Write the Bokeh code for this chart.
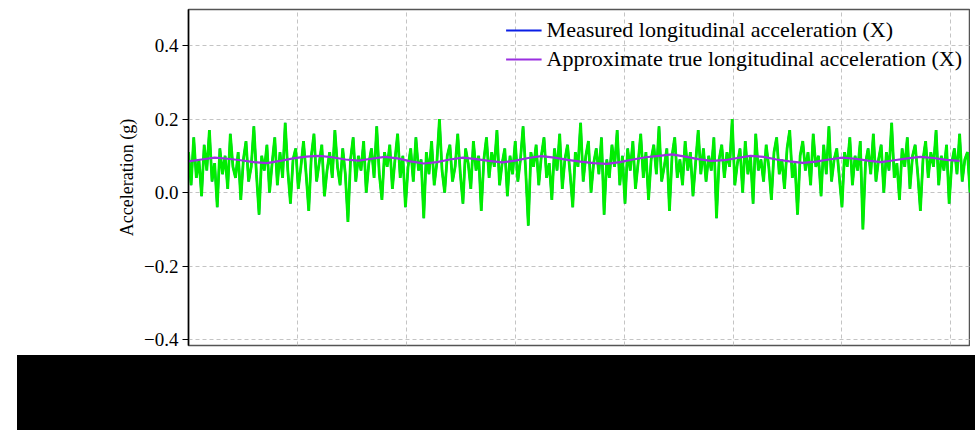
import numpy as np
from bokeh.plotting import figure
from bokeh.layouts import column, row
from bokeh.models import Range1d, FixedTicker, Legend, LegendItem, Div, Spacer
from bokeh.embed import file_html
from bokeh.resources import INLINE

# ---------------- data ----------------
sample_interval = 0.12  # s between measured samples
measured_accel = [
    0.11, 0.02, 0.15, 0.04, 0.09, -0.01, 0.13, 0.06, 0.17, 0.03, 0.08, -0.04, 0.12, 0.05, 0.10, 0.01, 0.16, 0.07, 0.04, 0.11,
    -0.02, 0.09, 0.14, 0.03, 0.07, 0.18, 0.05, -0.06, 0.10, 0.06, 0.13, 0.00, 0.08, 0.15, 0.02, 0.11, 0.04, 0.19, 0.06, -0.03,
    0.09, 0.12, 0.01, 0.07, 0.14, 0.05, -0.05, 0.10, 0.16, 0.03, 0.08, 0.13, -0.01, 0.06, 0.11, 0.04, 0.17, 0.07, 0.02, 0.12,
    0.05, -0.08, 0.09, 0.15, 0.03, 0.10, 0.06, 0.14, 0.00, 0.08, 0.12, 0.04, 0.18, 0.05, -0.02, 0.11, 0.07, 0.13, 0.01, 0.09,
    0.16, 0.04, 0.10, -0.04, 0.07, 0.12, 0.03, 0.15, 0.06, 0.09, -0.07, 0.11, 0.05, 0.14, 0.02, 0.08, 0.20, 0.06, 0.00, 0.10,
    0.13, 0.03, 0.07, 0.16, 0.05, -0.03, 0.12, 0.08, 0.01, 0.14, 0.06, 0.10, -0.05, 0.09, 0.15, 0.04, 0.11, 0.07, 0.17, 0.02,
    0.08, 0.12, -0.01, 0.10, 0.05, 0.14, 0.03, 0.09, 0.18, 0.06, -0.09, 0.11, 0.07, 0.13, 0.02, 0.10, 0.15, 0.04, 0.08, -0.02,
    0.12, 0.06, 0.16, 0.01, 0.09, 0.13, 0.05, -0.04, 0.11, 0.07, 0.19, 0.03, 0.10, 0.14, 0.00, 0.08, 0.12, 0.05, 0.15, -0.06,
    0.09, 0.04, 0.13, 0.07, 0.17, 0.02, 0.10, -0.03, 0.12, 0.06, 0.14, 0.01, 0.08, 0.16, 0.04, 0.11, -0.02, 0.09, 0.13, 0.05,
    0.18, 0.03, 0.07, 0.12, -0.05, 0.10, 0.15, 0.04, 0.09, 0.02, 0.14, 0.06, 0.11, -0.01, 0.08, 0.17, 0.05, 0.12, 0.03, 0.10,
    0.06, 0.15, -0.07, 0.09, 0.13, 0.04, 0.11, 0.07, 0.20, 0.02, 0.08, 0.12, 0.00, 0.14, 0.05, 0.10, -0.03, 0.16, 0.06, 0.09,
    0.03, 0.13, 0.07, -0.02, 0.11, 0.15, 0.05, 0.09, 0.01, 0.12, 0.17, 0.04, 0.08, -0.06, 0.10, 0.14, 0.06, 0.11, 0.02, 0.16,
    0.07, 0.10, -0.01, 0.13, 0.05, 0.18, 0.03, 0.09, 0.12, 0.04, -0.04, 0.11, 0.07, 0.15, 0.02, 0.10, 0.06, 0.14, -0.10, 0.08,
    0.12, 0.05, 0.16, 0.03, 0.09, 0.13, 0.00, 0.11, 0.06, 0.19, 0.04, 0.08, -0.02, 0.12, 0.07, 0.15, 0.01, 0.10, 0.13, 0.05,
    -0.05, 0.09, 0.14, 0.04, 0.11, 0.07, 0.17, 0.02, 0.10, 0.06, 0.13, -0.03, 0.08, 0.12, 0.05, 0.16, 0.03, 0.09, 0.11, 0.00,
]
true_interval = 0.6  # s between smoothed samples
true_accel = [
    0.085, 0.090, 0.095, 0.092, 0.088, 0.083, 0.080, 0.086, 0.093, 0.098,
    0.100, 0.096, 0.090, 0.087, 0.092, 0.097, 0.093, 0.085, 0.079, 0.083,
    0.090, 0.095, 0.091, 0.086, 0.082, 0.087, 0.094, 0.099, 0.095, 0.089,
    0.084, 0.080, 0.078, 0.083, 0.090, 0.096, 0.100, 0.104, 0.098, 0.091,
    0.086, 0.088, 0.094, 0.100, 0.097, 0.090, 0.085, 0.081, 0.084, 0.090,
    0.095, 0.092, 0.087, 0.083, 0.088, 0.093, 0.097, 0.094, 0.089, 0.086,
]
y_ticks = [-0.4, -0.2, 0.0, 0.2, 0.4]
y_tick_labels = ["\u22120.4", "\u22120.2", "0.0", "0.2", "0.4"]
x_ticks = [0, 5, 10, 15, 20, 25, 30, 35]
legend_labels = ["Measured longitudinal acceleration (X)",
                 "Approximate true longitudinal acceleration (X)"]

t_meas = np.arange(len(measured_accel)) * sample_interval
t_true = np.arange(len(true_accel)) * true_interval

SERIF = "Liberation Serif"

p = figure(width=970, height=350, output_backend="svg", toolbar_location=None,
           x_range=Range1d(0, 35.9), y_range=Range1d(-0.416, 0.498))
p.min_border_left = 188
p.min_border_right = 0
p.min_border_top = 9
p.min_border_bottom = 5
p.background_fill_color = "white"
p.border_fill_color = "white"
p.outline_line_color = "#555555"
p.outline_line_width = 1.5

p.xaxis.visible = False
p.xaxis.ticker = FixedTicker(ticks=x_ticks)
p.xgrid.ticker = FixedTicker(ticks=x_ticks)

p.yaxis.ticker = FixedTicker(ticks=y_ticks)
p.yaxis.major_label_overrides = {v: s for v, s in zip(y_ticks, y_tick_labels)}
p.yaxis.major_label_text_font = SERIF
p.yaxis.major_label_text_font_size = "19px"
p.yaxis.major_label_text_color = "black"
p.yaxis.major_label_standoff = 4
p.yaxis.axis_label = "Acceleration (g)"
p.yaxis.axis_label_text_font = SERIF
p.yaxis.axis_label_text_font_size = "18px"
p.yaxis.axis_label_text_font_style = "normal"
p.yaxis.axis_label_text_color = "black"
p.yaxis.axis_label_standoff = 4
p.yaxis.axis_line_color = "black"
p.yaxis.axis_line_width = 1.5
p.yaxis.major_tick_line_color = "black"
p.yaxis.major_tick_out = 6
p.yaxis.major_tick_in = 0
p.yaxis.minor_tick_line_color = None

for g in (p.xgrid, p.ygrid):
    g.grid_line_color = "#c4c4c4"
    g.grid_line_dash = "4 3"
    g.grid_line_width = 1

# blue measured trace (legend key) lies under the green drawn trace
r_meas_key = p.line(t_meas, measured_accel, line_color="#0a1ee6", line_width=2)
r_meas = p.line(t_meas, measured_accel, line_color="#00ee00", line_width=2.8)
r_true = p.line(t_true, true_accel, line_color="#9a2fe0", line_width=2.2)

legend = Legend(items=[LegendItem(label=legend_labels[0], renderers=[r_meas_key]),
                       LegendItem(label=legend_labels[1], renderers=[r_true])],
                location="top_right")
legend.label_text_font = SERIF
legend.label_text_font_size = "22px"
legend.label_text_color = "black"
legend.label_height = 22
legend.glyph_height = 20
legend.border_line_color = None
legend.background_fill_color = "white"
legend.background_fill_alpha = 0.0
legend.glyph_width = 36
legend.spacing = 3
legend.padding = 4
legend.margin = 8
p.add_layout(legend)

black = Div(text="", width=958, height=78,
            styles={"background-color": "black"})
bottom = row(Spacer(width=12, height=78), black, spacing=0)

layout = column(p, bottom, spacing=0)
open("out.html", "w").write(file_html(layout, INLINE))
